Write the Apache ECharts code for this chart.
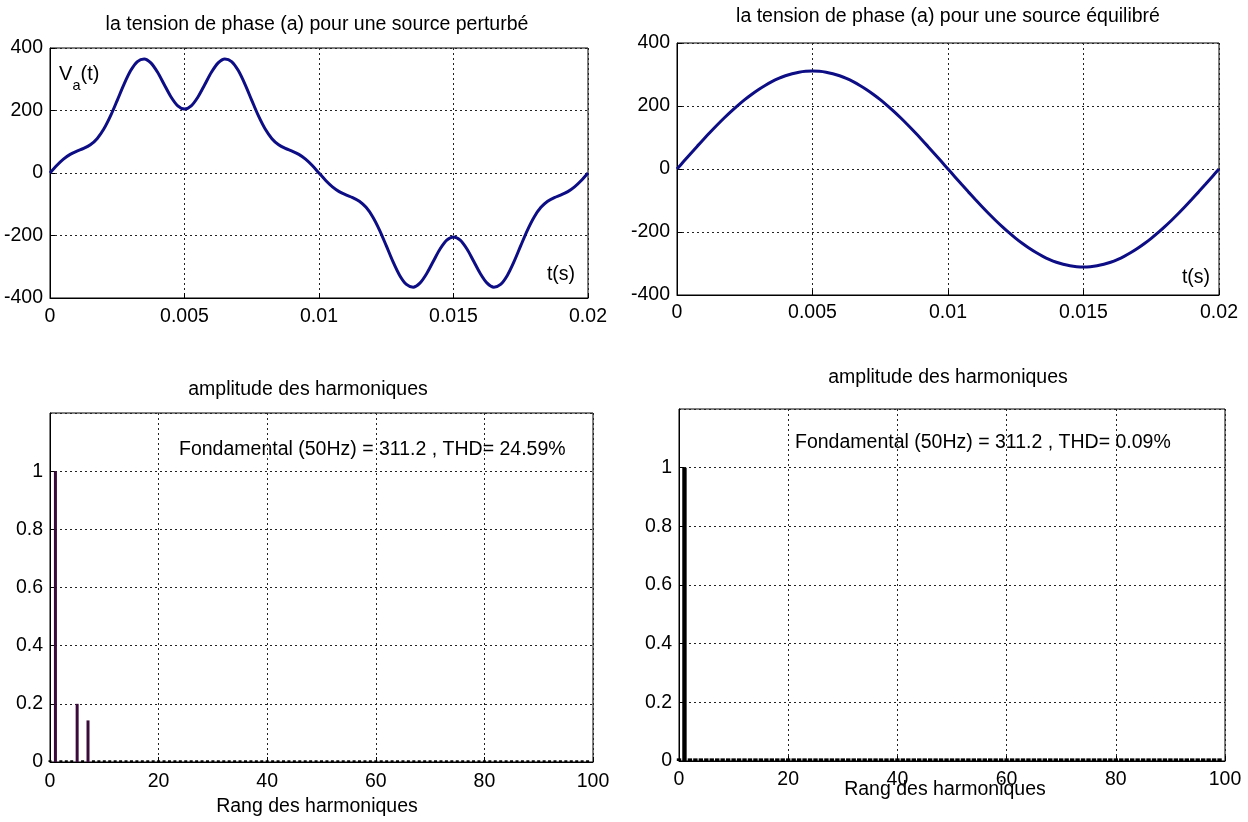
<!DOCTYPE html>
<html><head><meta charset="utf-8">
<script src="https://cdn.jsdelivr.net/npm/echarts@6/dist/echarts.min.js"></script>
<style>html,body{margin:0;padding:0;background:#fff}#c{width:1248px;height:822px}</style>
</head><body><div id="c"></div>
<script>
// ---- data ----
const timeS = [0,0.00025,0.0005,0.00075,0.001,0.00125,0.0015,0.00175,0.002,0.00225,0.0025,0.00275,0.003,0.00325,0.0035,0.00375,0.004,0.00425,0.0045,0.00475,0.005,0.00525,0.0055,0.00575,0.006,0.00625,0.0065,0.00675,0.007,0.00725,0.0075,0.00775,0.008,0.00825,0.0085,0.00875,0.009,0.00925,0.0095,0.00975,0.01,0.01025,0.0105,0.01075,0.011,0.01125,0.0115,0.01175,0.012,0.01225,0.0125,0.01275,0.013,0.01325,0.0135,0.01375,0.014,0.01425,0.0145,0.01475,0.015,0.01525,0.0155,0.01575,0.016,0.01625,0.0165,0.01675,0.017,0.01725,0.0175,0.01775,0.018,0.01825,0.0185,0.01875,0.019,0.01925,0.0195,0.01975,0.02];
const vaPerturbed = [0,23.9,44.3,59.5,69.9,78.6,90.3,109.9,140.6,182.6,232.6,283.8,327.8,356.7,365.2,352.4,322.2,282.3,243.2,214.8,204.5,214.8,243.2,282.3,322.2,352.4,365.2,356.7,327.8,283.8,232.6,182.6,140.6,109.9,90.3,78.6,69.9,59.5,44.3,23.9,0,
 -23.9,-44.3,-59.5,-69.9,-78.6,-90.3,-109.9,-140.6,-182.6,-232.6,-283.8,-327.8,-356.7,-365.2,-352.4,-322.2,-282.3,-243.2,-214.8,-204.5,-214.8,-243.2,-282.3,-322.2,-352.4,-365.2,-356.7,-327.8,-283.8,-232.6,-182.6,-140.6,-109.9,-90.3,-78.6,-69.9,-59.5,-44.3,-23.9,0];
const vaBalanced = [0,24.4,48.7,72.6,96.2,119.1,141.3,162.6,182.9,202.1,220.1,236.6,251.8,265.3,277.3,287.5,296.0,302.6,307.4,310.2,311.2,310.2,307.4,302.6,296.0,287.5,277.3,265.3,251.8,236.6,220.1,202.1,182.9,162.6,141.3,119.1,96.2,72.6,48.7,24.4,0,
 -24.4,-48.7,-72.6,-96.2,-119.1,-141.3,-162.6,-182.9,-202.1,-220.1,-236.6,-251.8,-265.3,-277.3,-287.5,-296.0,-302.6,-307.4,-310.2,-311.2,-310.2,-307.4,-302.6,-296.0,-287.5,-277.3,-265.3,-251.8,-236.6,-220.1,-202.1,-182.9,-162.6,-141.3,-119.1,-96.2,-72.6,-48.7,-24.4,0];
const harmonicRanks = [0,1,2,3,4,5,6,7,8,9,10,11,12,13,14,15,16,17,18,19,20,21,22,23,24,25,26,27,28,29,30,31,32,33,34,35,36,37,38,39,40,41,42,43,44,45,46,47,48,49,50,51,52,53,54,55,56,57,58,59,60,61,62,63,64,65,66,67,68,69,70,71,72,73,74,75,76,77,78,79,80,81,82,83,84,85,86,87,88,89,90,91,92,93,94,95,96,97,98,99];
const spectrumPerturbed = [0.006,1,0.006,0.006,0.006,0.2,0.006,0.143,0.006,0.006,0.006,0.006,0.006,0.006,0.006,0.006,0.006,0.006,0.006,0.006,0.006,0.006,0.006,0.006,0.006,0.006,0.006,0.006,0.006,0.006,0.006,0.006,0.006,0.006,0.006,0.006,0.006,0.006,0.006,0.006,0.006,0.006,0.006,0.006,0.006,0.006,0.006,0.006,0.006,0.006,0.006,0.006,0.006,0.006,0.006,0.006,0.006,0.006,0.006,0.006,0.006,0.006,0.006,0.006,0.006,0.006,0.006,0.006,0.006,0.006,0.006,0.006,0.006,0.006,0.006,0.006,0.006,0.006,0.006,0.006,0.006,0.006,0.006,0.006,0.006,0.006,0.006,0.006,0.006,0.006,0.006,0.006,0.006,0.006,0.006,0.006,0.006,0.006,0.006,0.006];
const spectrumBalanced = [0.009,1,0.009,0.009,0.009,0.009,0.009,0.009,0.009,0.009,0.009,0.009,0.009,0.009,0.009,0.009,0.009,0.009,0.009,0.009,0.009,0.009,0.009,0.009,0.009,0.009,0.009,0.009,0.009,0.009,0.009,0.009,0.009,0.009,0.009,0.009,0.009,0.009,0.009,0.009,0.009,0.009,0.009,0.009,0.009,0.009,0.009,0.009,0.009,0.009,0.009,0.009,0.009,0.009,0.009,0.009,0.009,0.009,0.009,0.009,0.009,0.009,0.009,0.009,0.009,0.009,0.009,0.009,0.009,0.009,0.009,0.009,0.009,0.009,0.009,0.009,0.009,0.009,0.009,0.009,0.009,0.009,0.009,0.009,0.009,0.009,0.009,0.009,0.009,0.009,0.009,0.009,0.009,0.009,0.009,0.009,0.009,0.009,0.009,0.009];
const titleTL = 'la tension de phase (a) pour une source perturbé';
const titleTR = 'la tension de phase (a) pour une source équilibré';
const titleSpec = 'amplitude des harmoniques';
const noteTL = 'Fondamental (50Hz) = 311.2 , THD= 24.59%';
const noteTR = 'Fondamental (50Hz) = 311.2 , THD= 0.09%';
const xNameSpec = 'Rang des harmoniques';
const xNameTime = 't(s)';

// ---- styling ----
const FONT = '"Liberation Sans", Arial, sans-serif';
const FS = 19.5;
const LINE_COLOR = '#0d0d85';

function xAx(gi, min, max, interval, margin) {
  return {type:'value', gridIndex:gi, min, max, interval,
    axisLine:{show:true, onZero:false, lineStyle:{color:'#000', width:1}},
    axisTick:{show:true, inside:true, length:5, lineStyle:{color:'#000'}},
    axisLabel:{color:'#000', fontSize:FS, fontFamily:FONT, margin, showMaxLabel:true, showMinLabel:true},
    splitLine:{show:true, lineStyle:{color:'#222', type:[2,3], width:1}}};
}
function yAx(gi, min, max, interval, showMax) {
  return {type:'value', gridIndex:gi, min, max, interval,
    axisLine:{show:true, onZero:false, lineStyle:{color:'#000', width:1}},
    axisTick:{show:true, inside:true, length:5, lineStyle:{color:'#000'}},
    axisLabel:{color:'#000', fontSize:FS, fontFamily:FONT, margin:7, showMaxLabel:showMax, showMinLabel:true},
    splitLine:{show:true, lineStyle:{color:'#222', type:[2,3], width:1}}};
}
function txt(text, x, y, align, size) {
  return {type:'text', x, y, silent:true,
    style:{text, fill:'#000', fontSize:size||FS, fontFamily:FONT, align:align||'center', verticalAlign:'middle'}};
}

const gridBase = {show:true, borderColor:'#000', borderWidth:1, backgroundColor:'#fff', containLabel:false, outerBoundsMode:'none'};

const chart = echarts.init(document.getElementById('c'), null, {renderer:'canvas'});
chart.setOption({
  backgroundColor:'#fff',
  animation:false,
  grid:[
    Object.assign({left:50, top:48, width:538, height:250}, gridBase),
    Object.assign({left:677, top:43, width:542, height:252}, gridBase),
    Object.assign({left:50, top:413, width:543, height:349}, gridBase),
    Object.assign({left:679, top:409, width:546, height:352}, gridBase)
  ],
  xAxis:[
    xAx(0, 0, 0.02, 0.005, 9),
    xAx(1, 0, 0.02, 0.005, 8),
    xAx(2, 0, 100, 20, 10),
    xAx(3, 0, 100, 20, 9)
  ],
  yAxis:[
    yAx(0, -400, 400, 200, true),
    yAx(1, -400, 400, 200, true),
    yAx(2, 0, 1.2, 0.2, false),
    yAx(3, 0, 1.2, 0.2, false)
  ],
  series:[
    {type:'line', xAxisIndex:0, yAxisIndex:0, data: timeS.map((t,i)=>[t, vaPerturbed[i]]),
     showSymbol:false, smooth:0.3, lineStyle:{color:LINE_COLOR, width:3}, itemStyle:{color:LINE_COLOR}, z:5},
    {type:'line', xAxisIndex:1, yAxisIndex:1, data: timeS.map((t,i)=>[t, vaBalanced[i]]),
     showSymbol:false, smooth:0.3, lineStyle:{color:LINE_COLOR, width:3}, itemStyle:{color:LINE_COLOR}, z:5},
    {type:'bar', xAxisIndex:2, yAxisIndex:2, data: harmonicRanks.map((r,i)=>[r, spectrumPerturbed[i]]),
     barWidth:3, clip:true,
     itemStyle:{color: p => (p.value[1] > 0.05 ? '#3a0b3a' : '#000')}, z:5},
    {type:'bar', xAxisIndex:3, yAxisIndex:3, data: harmonicRanks.map((r,i)=>[r, spectrumBalanced[i]]),
     barWidth:4.4, clip:true, itemStyle:{color:'#000'}, z:5}
  ],
  graphic:[
    txt(titleTL, 317, 25),
    txt(titleTR, 948, 17),
    txt(titleSpec, 308, 390),
    txt(titleSpec, 948, 378),
    txt(noteTL, 179, 450, 'left'),
    txt(noteTR, 795, 443, 'left'),
    txt(xNameSpec, 317, 807),
    txt(xNameSpec, 945, 790),
    txt(xNameTime, 561, 275),
    txt(xNameTime, 1196, 278),
    txt('V', 59, 74, 'left', 20),
    txt('a', 72.5, 86, 'left', 14.5),
    txt('(t)', 80.5, 74, 'left', 20)
  ]
});
</script>
</body></html>
